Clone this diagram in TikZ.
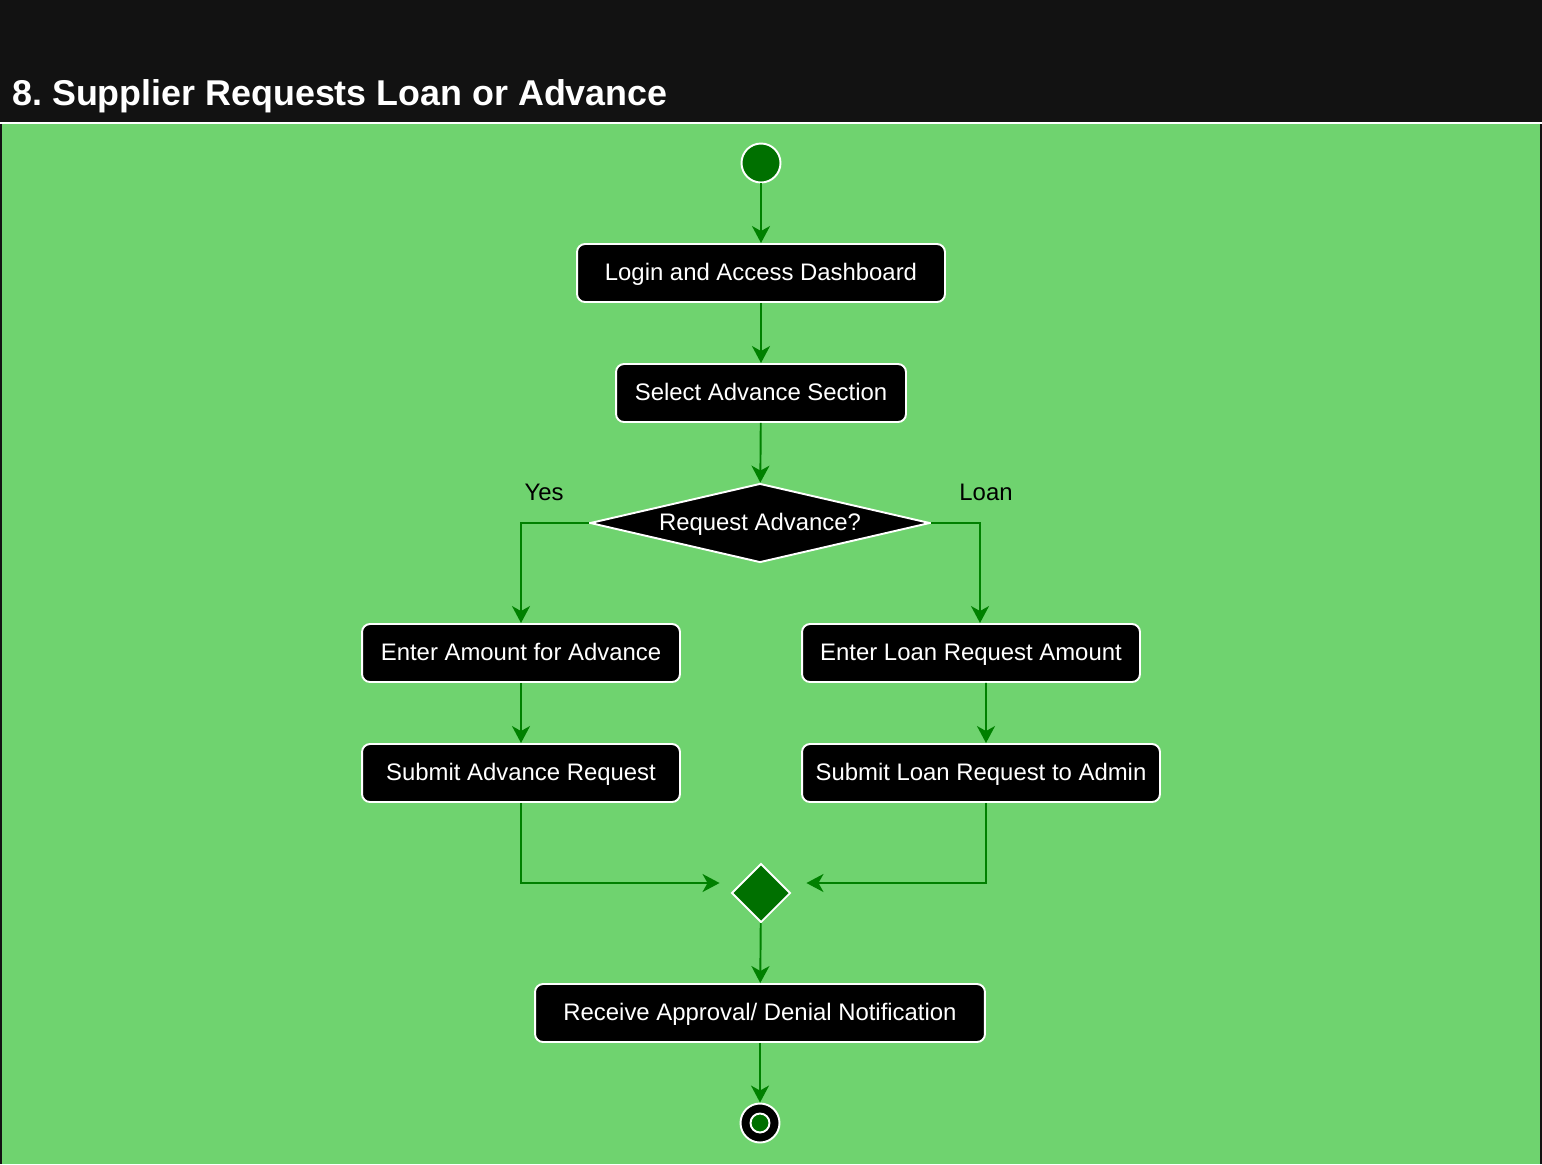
\documentclass[tikz,border=0pt]{standalone}
\usepackage{fontspec}
\setmainfont{Liberation Sans}
\usetikzlibrary{shapes.geometric,arrows.meta}
\definecolor{bggreen}{RGB}{111,211,111}
\definecolor{nodegreen}{RGB}{0,112,0}
\definecolor{linegreen}{RGB}{0,128,0}
\definecolor{headbar}{RGB}{18,18,18}
\frenchspacing
\begin{document}
\begin{tikzpicture}[x=0.02cm,y=-0.02cm]
\tikzstyle{every node}+=[inner sep=0pt,font=\fontsize{13.6}{16}\selectfont]
\tikzstyle{act}=[draw=white,line width=1.1pt,fill=black,text=white,rounded corners=0.16cm,minimum height=1.16cm,text height=10pt,text depth=2pt]
\tikzstyle{flow}=[draw=linegreen,line width=1.1pt,-{Stealth[length=0.34cm,width=0.36cm,inset=0.1cm]}]
\useasboundingbox (0,0) rectangle (1542,1164);
\fill [headbar] (0,0) rectangle (1542,1164);
\fill [white] (0,122) rectangle (1542,124);
\fill [bggreen] (2,124) rectangle (1540,1164);
\node [anchor=base west,text=white,font=\fontsize{20.4}{24}\selectfont\bfseries] (title) at (12,105) {8. Supplier Requests Loan or Advance};
\node [circle,fill=nodegreen,draw=white,line width=1.1pt,minimum size=0.78cm] (start) at (761,163) {};
\node [act,minimum width=7.36cm] (login) at (761,273) {Login and Access Dashboard};
\node [act,minimum width=5.8cm] (select) at (761,393) {Select Advance Section};
\node [diamond,fill=black,draw=white,line width=1.1pt,text=white,text height=10pt,text depth=2pt,shape aspect=4.275,minimum width=6.8cm,minimum height=1.58cm] (ask) at (760,523) {Request Advance?};
\node (yes) at (544,492) {Yes};
\node (loan) at (986,492) {Loan};
\node [act,minimum width=6.36cm] (advamt) at (521,653) {Enter Amount for Advance};
\node [act,minimum width=6.76cm] (loanamt) at (971,653) {Enter Loan Request Amount};
\node [act,minimum width=6.36cm] (advsub) at (521,773) {Submit Advance Request};
\node [act,minimum width=7.16cm] (loansub) at (981,773) {Submit Loan Request to Admin};
\node [diamond,fill=nodegreen,draw=white,line width=1.1pt,minimum width=1.18cm,minimum height=1.18cm] (merge) at (761,893) {};
\node [act,minimum width=9.0cm] (recv) at (760,1013) {Receive Approval/ Denial Notification};
\node [circle,fill=black,draw=white,line width=1.1pt,minimum size=0.78cm] (stop) at (760,1123) {};
\node [circle,fill=nodegreen,draw=white,line width=1.1pt,minimum size=0.38cm] (stopdot) at (stop) {};
\draw [flow] (start) -- (login);
\draw [flow] (login) -- (select);
\draw [flow] (select) -- (ask);
\draw [flow] (ask.west) -| (advamt);
\draw [flow] (ask.east) -| ([xshift=0.18cm]loanamt.north);
\draw [flow] (advamt) -- (advsub);
\draw [flow] ([xshift=0.3cm]loanamt.south) -- ([xshift=0.1cm]loansub.north);
\draw [flow] (advsub) |- ([xshift=-0.22cm,yshift=0.2cm]merge.west);
\draw [flow] ([xshift=0.1cm]loansub.south) |- ([xshift=0.3cm,yshift=0.2cm]merge.east);
\draw [flow] (merge) -- (recv);
\draw [flow] (recv) -- (stop);
\end{tikzpicture}
\end{document}
